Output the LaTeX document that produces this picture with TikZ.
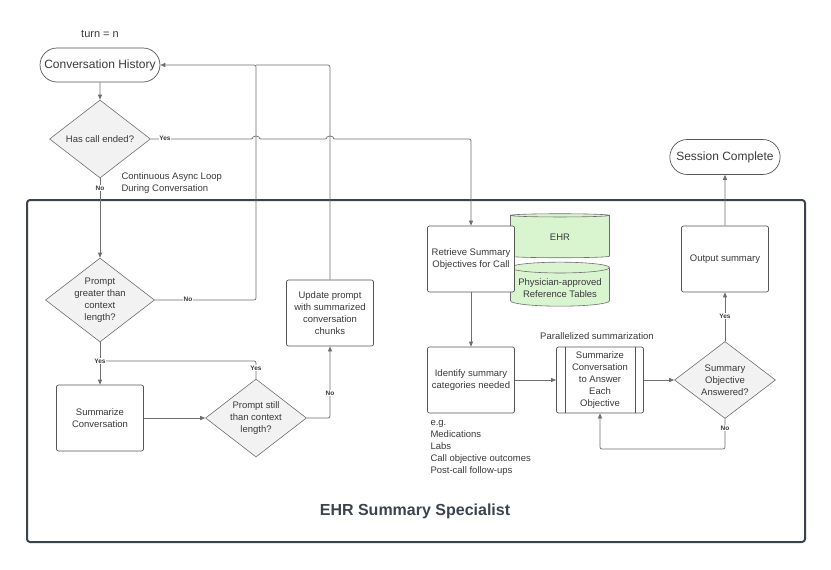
\documentclass[tikz,border=0pt]{standalone}
\usepackage{fontspec}
\setmainfont{Liberation Sans}
\usetikzlibrary{shapes.geometric,shapes.misc,arrows.meta}
\definecolor{txt}{HTML}{3A3A3A}
\definecolor{ln}{HTML}{6E6E6E}
\definecolor{bd}{HTML}{555555}
\definecolor{frame}{HTML}{3D434D}
\definecolor{dfill}{HTML}{F2F2F2}
\definecolor{gfill}{HTML}{D9F5D0}
\begin{document}
\begin{tikzpicture}[x=1pt,y=-1pt,
  every node/.style={text=txt},
  boxtext/.style={font=\fontsize{9.5}{12}\selectfont,align=center},
  pbox/.style={draw=bd,fill=white,rounded corners=2pt,minimum width=87pt,minimum height=66pt,boxtext,line width=0.7pt},
  dec/.style={diamond,draw=ln,fill=dfill,aspect=1.3,inner sep=0pt,boxtext,line width=0.6pt},
  pill/.style={draw=bd,rounded rectangle,line width=0.7pt,font=\fontsize{12}{14}\selectfont},
  db/.style={cylinder,shape border rotate=90,aspect=0.12,draw=ln,fill=gfill,minimum width=99pt,minimum height=44pt,boxtext,line width=0.6pt},
  conn/.style={draw=ln,line width=0.7pt},
  arr/.style={conn,-{Triangle[length=5pt,width=4pt]}},
  lbl/.style={font=\fontsize{6.5}{7}\selectfont\bfseries,fill=white,inner sep=0.5pt}]
\useasboundingbox (0,0) rectangle (831,570);
% frame
\draw[frame,line width=2pt,rounded corners=3pt] (27,200) rectangle (805,542);
\node[font=\fontsize{16}{18}\selectfont\bfseries,text=frame] (title) at (415,511) {EHR Summary Specialist};

% nodes
\node[font=\fontsize{11}{13}\selectfont] (turn) at (100,34) {turn = n};
\node[pill,minimum width=115pt,minimum height=34pt] (ch) at (100,65) {Conversation History};
\node[dec,minimum width=101pt,minimum height=78pt] (d1) at (100,139) {Has call ended?};
\node[boxtext,align=left,anchor=west] (async) at (118,183) {Continuous Async Loop\\During Conversation};
\node[dec,minimum width=101pt,minimum height=76pt] (d2) at (100,300) {Prompt\\greater than\\context\\length?};
\node[pbox] (sumc) at (100,418) {Summarize\\Conversation};
\node[dec,minimum width=101pt,minimum height=78pt] (d3) at (256,418) {Prompt still\\than context\\length?};
\node[pbox] (upd) at (330,313) {Update prompt\\with summarized\\conversation\\chunks};

\node[db] (ehr) at (560,237) {EHR};
\node[db] (phys) at (560,288) {Physician-approved\\Reference Tables};
\node[pbox] (ret) at (471,259) {Retrieve Summary\\Objectives for Call};
\node[pbox] (ident) at (471,380) {Identify summary\\categories needed};
\node[boxtext,align=left,anchor=north west] (eg) at (427,417) {e.g.\\Medications\\Labs\\Call objective outcomes\\Post-call follow-ups};
\node[boxtext] (par) at (597,336) {Parallelized summarization};
\node[pbox] (sumo) at (600,380) {Summarize\\Conversation\\to Answer\\Each\\Objective};
\draw[bd,line width=0.7pt] ([xshift=9pt]sumo.north west) -- ([xshift=9pt]sumo.south west);
\draw[bd,line width=0.7pt] ([xshift=-9pt]sumo.north east) -- ([xshift=-9pt]sumo.south east);
\node[dec,minimum width=101pt,minimum height=77pt] (d4) at (725,380) {Summary\\Objective\\Answered?};
\node[pbox] (out) at (725,259) {Output summary};
\node[pill,minimum width=117pt,minimum height=35pt] (done) at (725,157) {Session Complete};

% connectors
\draw[arr] (ch) -- (d1);
\coordinate (j1) at (253,139);
\coordinate (j2) at (327,139);
\draw[arr,rounded corners=2pt] (d1.east) -- (j1) arc[start angle=180,end angle=0,radius=3pt] -- (j2) arc[start angle=180,end angle=0,radius=3pt] -- (471,139) -- (ret.north);
\node[lbl] at (165,138) {Yes};
\draw[arr] (d1) -- (d2);
\node[lbl] at (100,188) {No};
\draw[arr,rounded corners=2pt] (d2.east) -- (256,300) -- (256,65) -- (ch.east);
\node[lbl] at (188,299) {No};
\draw[conn,rounded corners=2pt] (upd.north) -- (330,65) -- (256,65);
\draw[arr] (d2) -- (sumc);
\draw[conn,rounded corners=2pt] (d3.north) -- (256,361) -- (100,361);
\node[lbl] at (100,361) {Yes};
\node[lbl] at (256,368) {Yes};
\draw[arr] (sumc) -- (d3);
\draw[arr,rounded corners=2pt] (d3.east) -- (330,418) -- (upd.south);
\node[lbl] at (330,393) {No};
\draw[arr] (ret) -- (ident);
\draw[arr] (ident) -- (sumo);
\draw[arr] (sumo) -- (d4);
\draw[arr,rounded corners=2pt] (d4.south) -- (725,449) -- (600,449) -- (sumo.south);
\node[lbl] at (725,428) {No};
\draw[arr] (d4) -- (out);
\node[lbl] at (725,316) {Yes};
\draw[arr] (out) -- (done);
\end{tikzpicture}
\end{document}
